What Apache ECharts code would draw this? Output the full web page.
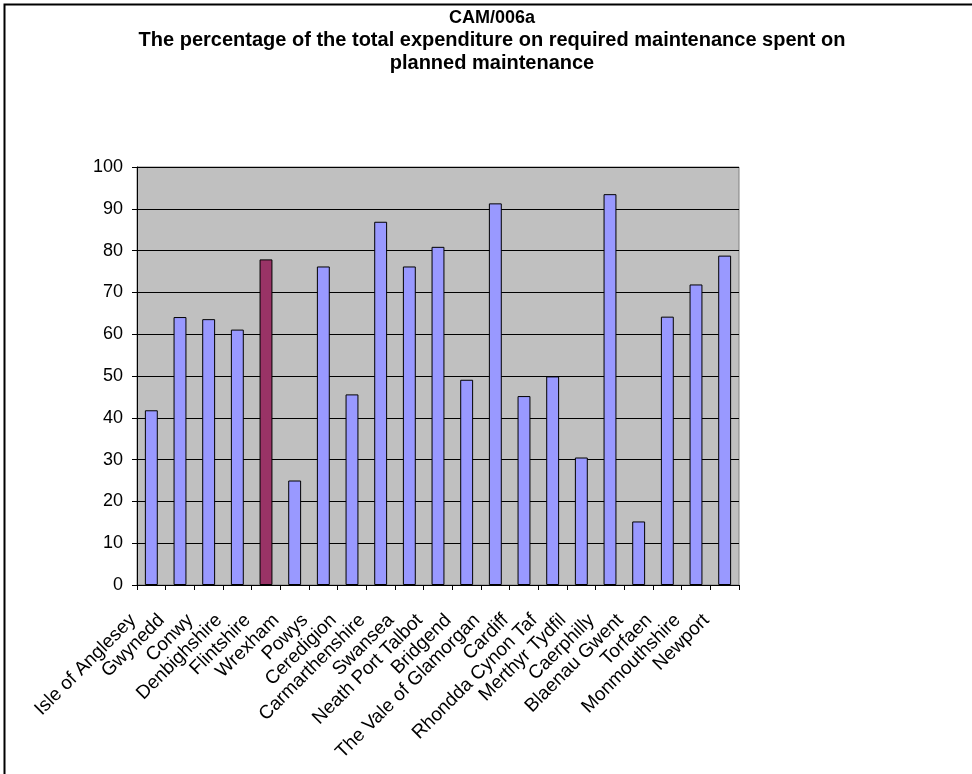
<!DOCTYPE html>
<html>
<head>
<meta charset="utf-8">
<script src="https://cdn.jsdelivr.net/npm/echarts@6/dist/echarts.min.js"></script>
<style>
html,body{margin:0;padding:0;background:#fff;}
#chart{width:972px;height:774px;}
</style>
</head>
<body>
<div id="chart"></div>
<script>
var titleLines = ["CAM/006a","The percentage of the total expenditure on required maintenance spent on","planned maintenance"];
var categories = ["Isle of Anglesey","Gwynedd","Conwy","Denbighshire","Flintshire","Wrexham","Powys","Ceredigion","Carmarthenshire","Swansea","Neath Port Talbot","Bridgend","The Vale of Glamorgan","Cardiff","Rhondda Cynon Taf","Merthyr Tydfil","Caerphilly","Blaenau Gwent","Torfaen","Monmouthshire","Newport"];
var values = [41.8,64.1,63.6,61.1,77.9,25.0,76.2,45.6,86.9,76.2,80.9,49.1,91.3,45.2,49.9,30.5,93.5,15.2,64.2,71.9,78.8];
var highlighted = ["Flintshire"];
var yTicks = [0,10,20,30,40,50,60,70,80,90,100];

var chart = echarts.init(document.getElementById('chart'), null, {renderer:'canvas'});
var data = values.map(function(v,i){
  var hi = highlighted.indexOf(categories[i]) >= 0;
  return {value:v, itemStyle:{color: hi ? '#993366' : '#9999FF'}};
});
var titleFont = 'Liberation Sans, Arial, sans-serif';
var titleY = [18, 40, 63];
var titleSize = [18, 20, 20];
var graphics = [{
  type:'rect',
  shape:{x:4.5,y:4.5,width:1200,height:1200},
  style:{fill:'none',stroke:'#000',lineWidth:2}
}];
titleLines.forEach(function(t,i){
  graphics.push({
    type:'text', x:492, y:titleY[i],
    style:{text:t, fill:'#000', font:'bold '+titleSize[i]+'px '+titleFont, textAlign:'center', textVerticalAlign:'middle'}
  });
});
chart.setOption({
  animation:false,
  backgroundColor:'#ffffff',
  graphic:graphics,
  grid:{left:137,right:233,top:167,bottom:189,show:true,backgroundColor:'#C0C0C0',borderColor:'#808080',borderWidth:1},
  xAxis:{
    type:'category',
    data:categories,
    axisLine:{lineStyle:{color:'#000',width:1}},
    axisTick:{show:true,length:5,lineStyle:{color:'#000'}},
    axisLabel:{interval:0,rotate:45,fontSize:19,fontFamily:titleFont,color:'#000',margin:14,padding:[0,26,0,0]}
  },
  yAxis:{
    type:'value',
    min:yTicks[0],
    max:yTicks[yTicks.length-1],
    interval:yTicks[1]-yTicks[0],
    axisLine:{show:true,lineStyle:{color:'#000',width:1}},
    axisTick:{show:true,length:5,lineStyle:{color:'#000'}},
    axisLabel:{fontSize:18,fontFamily:titleFont,color:'#000',margin:14},
    splitLine:{show:true,lineStyle:{color:'#000',width:1}}
  },
  series:[{
    type:'bar',
    data:data,
    barCategoryGap:'55%',
    itemStyle:{borderColor:'#000',borderWidth:1}
  }]
});
</script>
</body>
</html>
